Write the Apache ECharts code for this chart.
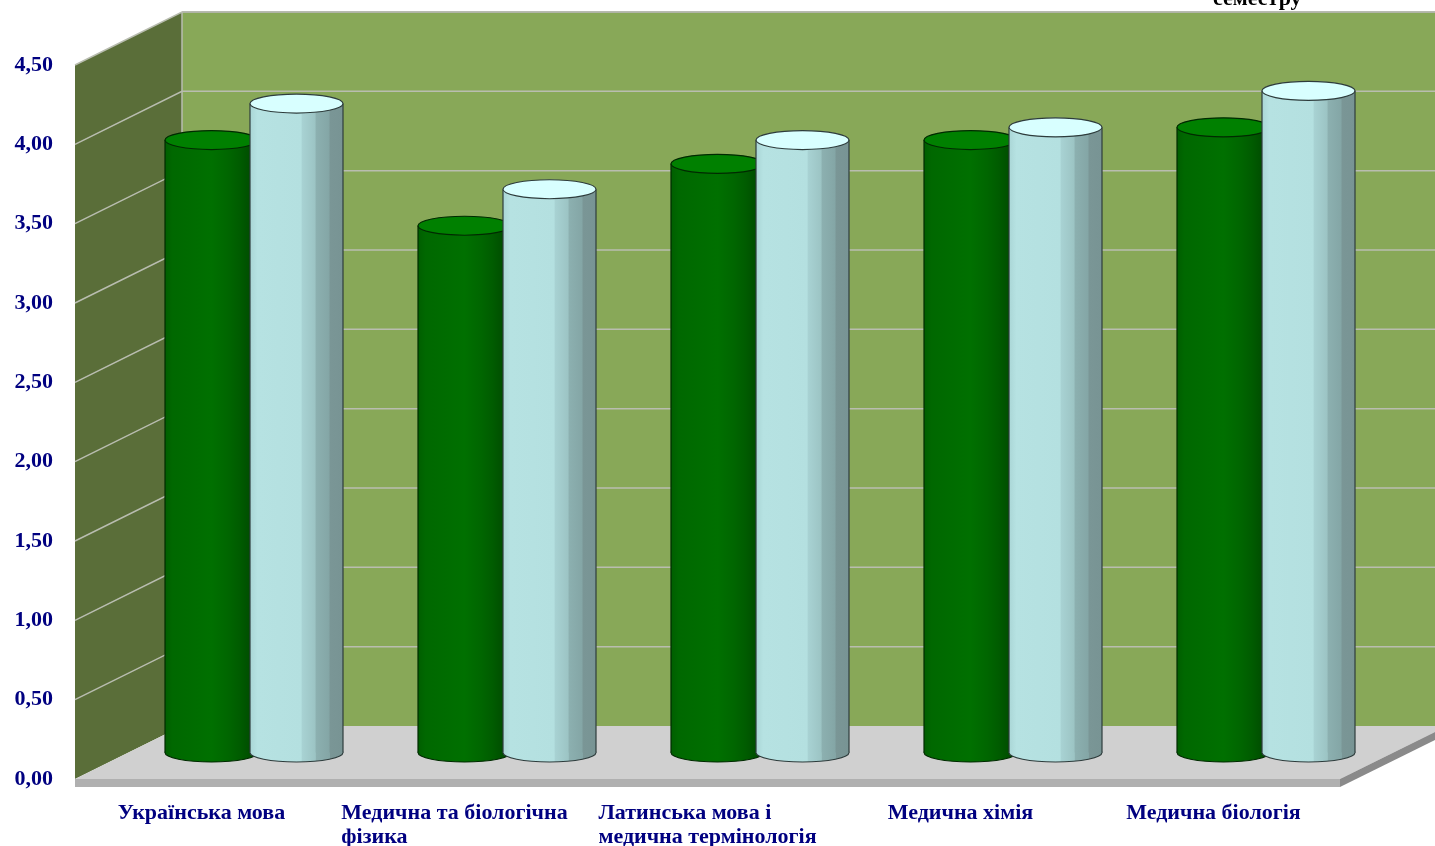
<!DOCTYPE html>
<html>
<head>
<meta charset="utf-8">
<script src="https://cdn.jsdelivr.net/npm/echarts@6/dist/echarts.min.js"></script>
<style>
html,body{margin:0;padding:0;background:#fff;}
#chart{width:1435px;height:846px;}
</style>
</head>
<body>
<div id="chart"></div>
<script>
// ---- data ----
const categories = ['Українська мова', 'Медична та біологічна\nфізика', 'Латинська мова і\nмедична термінологія', 'Медична хімія', 'Медична біологія'];
const seriesA = [3.86, 3.32, 3.71, 3.86, 3.94];   // dark green cylinders
const seriesB = [4.09, 3.55, 3.86, 3.94, 4.17];   // light cyan cylinders
const yTicks = [0, 0.5, 1, 1.5, 2, 2.5, 3, 3.5, 4, 4.5];
const legendText = 'семестру';

// ---- style constants ----
const DX = 107, DY = -53;     // 3D depth offset
const RX = 46.5, RY = 9.5;    // cylinder radii
const FONT = 'Liberation Serif';
const NAVY = '#000080';

const chart = echarts.init(document.getElementById('chart'));

function backgroundItem(params, api) {
  const cs = params.coordSys;
  const x0 = cs.x, xR = cs.x + cs.width, yT = cs.y, yB = cs.y + cs.height;
  const ch = [];
  // back wall
  ch.push({type:'rect', shape:{x:x0+DX, y:yT+DY, width:cs.width+DX, height:cs.height}, style:{fill:'#88a858'}});
  ch.push({type:'line', shape:{x1:x0+DX, y1:yT+DY, x2:xR+2*DX, y2:yT+DY}, style:{stroke:'#9a9a9a', lineWidth:1.5}});
  // left wall
  ch.push({type:'polygon', shape:{points:[[x0,yT],[x0+DX,yT+DY],[x0+DX,yB+DY],[x0,yB]]}, style:{fill:'#5a6e39'}});
  // gridlines
  yTicks.forEach(function(v){
    if (v === 0) return;
    const yv = api.coord([0, v])[1];
    ch.push({type:'polyline', shape:{points:[[x0,yv],[x0+DX,yv+DY],[xR+2*DX,yv+DY]]}, style:{stroke:'#b9bdb0', lineWidth:1.5, fill:null}});
  });
  // corner line
  ch.push({type:'line', shape:{x1:x0+DX, y1:yT+DY, x2:x0+DX, y2:yB+DY}, style:{stroke:'#b9bdb0', lineWidth:1.5}});
  // floor
  ch.push({type:'polygon', shape:{points:[[x0,yB],[x0+DX,yB+DY],[xR+DX,yB+DY],[xR,yB]]}, style:{fill:'#d0d0d0'}});
  ch.push({type:'rect', shape:{x:x0, y:yB, width:cs.width, height:8}, style:{fill:'#b0b0b0'}});
  ch.push({type:'polygon', shape:{points:[[xR,yB],[xR+DX,yB+DY],[xR+DX,yB+DY+8],[xR,yB+8]]}, style:{fill:'#8a8a8a'}});
  return {type:'group', children:ch, silent:true};
}

function cylinderRenderer(offset, bodyStops, topFill, stroke) {
  return function(params, api) {
    const idx = api.value(0), v = api.value(1);
    const base = api.coord([idx, 0]);
    const top = api.coord([idx, v]);
    const cx = base[0] + DX/2 + offset;
    const yb = base[1] + DY/2;
    const yt = top[1] + DY/2;
    const grad = new echarts.graphic.LinearGradient(0, 0, 1, 0, bodyStops);
    return {type:'group', children:[
      {type:'ellipse', shape:{cx:cx, cy:yb, rx:RX, ry:RY}, style:{fill:grad, stroke:stroke, lineWidth:1.2}},
      {type:'rect', shape:{x:cx-RX, y:yt, width:2*RX, height:yb-yt}, style:{fill:grad}},
      {type:'line', shape:{x1:cx-RX, y1:yt, x2:cx-RX, y2:yb}, style:{stroke:stroke, lineWidth:1.2}},
      {type:'line', shape:{x1:cx+RX, y1:yt, x2:cx+RX, y2:yb}, style:{stroke:stroke, lineWidth:1.2}},
      {type:'ellipse', shape:{cx:cx, cy:yt, rx:RX, ry:RY}, style:{fill:topFill, stroke:stroke, lineWidth:1.2}}
    ]};
  };
}

const greenStops = [
  {offset:0, color:'#005e00'},{offset:0.08, color:'#006800'},{offset:0.5, color:'#007000'},
  {offset:0.68, color:'#006600'},{offset:0.8, color:'#005c00'},{offset:0.9, color:'#005000'},{offset:1, color:'#004800'}
];
const lightStops = [
  {offset:0, color:'#aad6d6'},{offset:0.08, color:'#b6e2e2'},{offset:0.55, color:'#b4e0e0'},
  {offset:0.56, color:'#a8d2d3'},{offset:0.7, color:'#9cc4c4'},{offset:0.71, color:'#8cb0b0'},
  {offset:0.85, color:'#84a6a6'},{offset:0.86, color:'#7a9696'},{offset:1, color:'#789494'}
];

const option = {
  animation: false,
  grid: {left: 75, right: 95, top: 65, bottom: 67, containLabel: false, outerBoundsMode: 'none'},
  graphic: [{type:'text', left: 1213, top: -12, silent:true,
    style:{text: legendText, font: 'bold 22px "' + FONT + '"', fill:'#000'}}],
  xAxis: {
    type: 'category', data: categories,
    axisLine: {show:false}, axisTick: {show:false}, splitLine:{show:false},
    axisLabel: {
      interval: 0, margin: 22,
      formatter: function(val){ return val.split('\n').map(function(s){return '{l|' + s + '}';}).join('\n'); },
      rich: {l: {align:'left', fontFamily: FONT, fontWeight:'bold', fontSize:22, color:NAVY, lineHeight:24}}
    }
  },
  yAxis: {
    type: 'value', min: 0, max: 4.5, interval: 0.5,
    axisLine: {show:false}, axisTick:{show:false}, splitLine:{show:false},
    axisLabel: {margin: 22, fontFamily: FONT, fontWeight:'bold', fontSize:22, color:NAVY,
      formatter: function(v){ return v.toFixed(2).replace('.', ','); }}
  },
  series: [
    {type:'custom', silent:true, z:1, data:[[0,0]], renderItem: backgroundItem, clip:false},
    {type:'custom', silent:true, z:2, data: seriesA.map(function(v,i){return [i,v];}),
      renderItem: cylinderRenderer(-43.5, greenStops, '#008000', '#002a00'), clip:false},
    {type:'custom', silent:true, z:3, data: seriesB.map(function(v,i){return [i,v];}),
      renderItem: cylinderRenderer(41.5, lightStops, '#d8ffff', '#2e3c3c'), clip:false}
  ]
};
chart.setOption(option);
</script>
</body>
</html>
